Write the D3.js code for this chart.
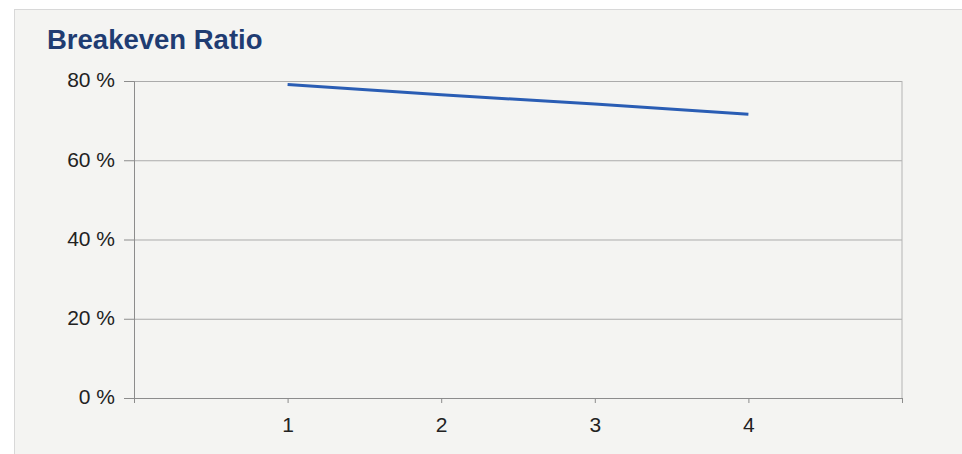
<!DOCTYPE html>
<html>
<head>
<meta charset="utf-8">
<script src="https://cdn.jsdelivr.net/npm/d3@7"></script>
<style>
  body { margin: 0; background: #fff; }
  svg { display: block; font-family: Arial, "Liberation Sans", sans-serif; }
</style>
</head>
<body>
<svg id="chart"></svg>
<script>
// data
const periods = [1, 2, 3, 4];
const breakevenRatio = [79.1, 76.5, 74.2, 71.6];
const yTicks = [0, 20, 40, 60, 80];
const xTicks = [0, 1, 2, 3, 4, 5];
const xLabels = ['', '1', '2', '3', '4', ''];

const width = 962, height = 454;
const margin = {top: 81, right: 60, bottom: 56, left: 134};
const labelFont = 'Arial, "Liberation Sans", sans-serif';

const svg = d3.select('#chart')
  .attr('width', width)
  .attr('height', height);

// panel background
svg.append('rect')
  .attr('x', 14.5).attr('y', 9.5)
  .attr('width', width).attr('height', height)
  .attr('fill', '#f4f4f2')
  .attr('stroke', '#d8d8d8');

svg.append('text')
  .attr('x', 47).attr('y', 49)
  .attr('font-size', 27.5)
  .attr('font-weight', 'bold')
  .attr('fill', '#1f3c72')
  .text('Breakeven Ratio');

const innerW = width - margin.left - margin.right;   // 768
const innerH = height - margin.top - margin.bottom;  // 317

const chart = svg.append('g')
  .attr('transform', `translate(${margin.left}, ${margin.top})`);

const xScale = d3.scaleLinear().domain([0, 5]).range([0, innerW]);
const yScale = d3.scaleLinear().domain([0, 80]).range([innerH, 0]);

// gridlines + right border
chart.append('g')
  .attr('class', 'grid')
  .call(d3.axisLeft(yScale).tickValues(yTicks.slice(1)).tickSize(-innerW).tickFormat(''))
  .call(g => g.select('.domain').remove())
  .selectAll('line').attr('stroke', '#ababab');

chart.append('line')
  .attr('x1', innerW).attr('x2', innerW)
  .attr('y1', 0).attr('y2', innerH)
  .attr('stroke', '#b4b4b4');

// y axis
chart.append('g')
  .call(d3.axisLeft(yScale).tickValues(yTicks).tickSize(10).tickPadding(9).tickFormat(d => d + ' %'))
  .call(g => g.selectAll('line, path').attr('stroke', '#8c8c8c'))
  .call(g => g.selectAll('text').attr('font-size', 21).attr('fill', '#222').attr('font-family', labelFont).attr('dy', '0.28em'));

// x axis
chart.append('g')
  .attr('transform', `translate(0, ${innerH})`)
  .call(d3.axisBottom(xScale).tickValues(xTicks).tickSizeOuter(0).tickSize(5).tickPadding(14).tickFormat((d, i) => xLabels[i]))
  .call(g => g.selectAll('line, path').attr('stroke', '#8c8c8c'))
  .call(g => g.selectAll('text').attr('font-size', 21).attr('fill', '#222').attr('font-family', labelFont));

// series line
const line = d3.line()
  .x((d, i) => xScale(periods[i]))
  .y(d => yScale(d));

chart.append('path')
  .datum(breakevenRatio)
  .attr('fill', 'none')
  .attr('stroke', '#2a5db4')
  .attr('stroke-width', 3)
  .attr('d', line);
</script>
</body>
</html>
